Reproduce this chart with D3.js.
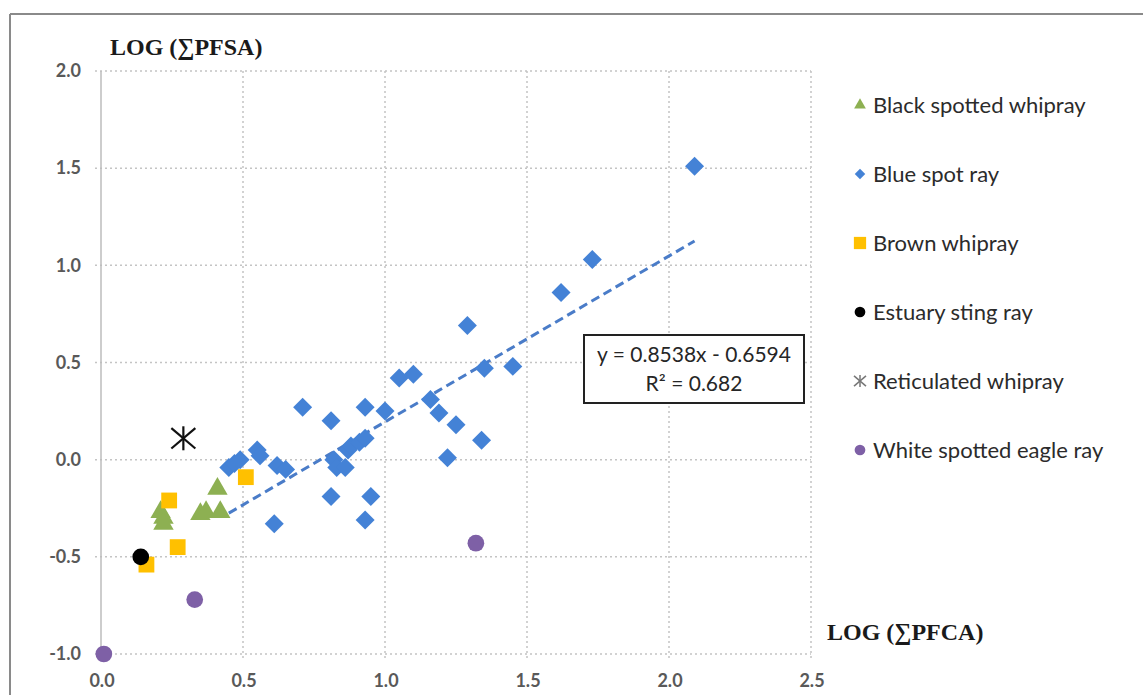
<!DOCTYPE html>
<html>
<head>
<meta charset="utf-8">
<script src="https://cdn.jsdelivr.net/npm/d3@7"></script>
<style>
  body { margin: 0; background: #fff; }
  svg { display: block; }
</style>
</head>
<body>
<div id="chart"></div>
<script>
// series values: [log PFCA, log PFSA]
const blackSpotted = [[0.21,-0.27],[0.22,-0.30],[0.22,-0.33],[0.35,-0.28],[0.37,-0.27],[0.41,-0.15],[0.42,-0.27]];
const blueSpot = [[0.45,-0.04],[0.47,-0.02],[0.49,0.00],[0.55,0.05],[0.56,0.02],[0.61,-0.33],[0.62,-0.03],
  [0.65,-0.05],[0.71,0.27],[0.81,0.20],[0.81,-0.19],[0.82,0.00],[0.83,-0.04],[0.86,-0.04],[0.87,0.05],
  [0.88,0.07],[0.91,0.09],[0.93,0.11],[0.93,0.27],[0.93,-0.31],[0.95,-0.19],[1.00,0.25],[1.05,0.42],
  [1.10,0.44],[1.16,0.31],[1.19,0.24],[1.22,0.01],[1.25,0.18],[1.29,0.69],[1.34,0.10],[1.35,0.47],
  [1.45,0.48],[1.62,0.86],[1.73,1.03],[2.09,1.51]];
const brownWhipray = [[0.16,-0.54],[0.24,-0.21],[0.27,-0.45],[0.51,-0.09]];
const estuary = [[0.14,-0.50]];
const reticulated = [[0.29,0.11]];
const whiteSpotted = [[0.01,-1.0],[0.33,-0.72],[1.32,-0.43]];

const seriesNames = ["Black spotted whipray","Blue spot ray","Brown whipray","Estuary sting ray","Reticulated whipray","White spotted eagle ray"];
const xTicks = [0, 0.5, 1.0, 1.5, 2.0, 2.5];
const yTicks = [-1.0, -0.5, 0, 0.5, 1.0, 1.5, 2.0];
const trendSlope = 0.8538, trendIntercept = -0.6594;
const eqText = ["y = 0.8538x - 0.6594", "R² = 0.682"];

const W = 1143, H = 695;
const svg = d3.select("#chart").append("svg").attr("width", W).attr("height", H);

// frame (only top and left edges are visible)
svg.append("line").attr("x1", 10).attr("y1", 14).attr("x2", W).attr("y2", 14)
  .attr("stroke", "#8a8a8a").attr("stroke-width", 2);
svg.append("line").attr("x1", 10).attr("y1", 14).attr("x2", 10).attr("y2", H)
  .attr("stroke", "#8a8a8a").attr("stroke-width", 2);

var x = d3.scaleLinear().domain([0, 2.5]).range([101, 811]);
var y = d3.scaleLinear().domain([-1, 2]).range([654, 71]);
var fmt = d => d.toFixed(1);

// grid
svg.append("g").selectAll("line").data(yTicks).enter().append("line")
  .attr("x1", 95).attr("x2", x(2.5))
  .attr("y1", d => y(d)).attr("y2", d => y(d))
  .attr("stroke", "#c4c4c4").attr("stroke-width", 1.5).attr("stroke-dasharray", "2,3");
svg.append("g").selectAll("line").data(xTicks.slice(1)).enter().append("line")
  .attr("x1", d => x(d)).attr("x2", d => x(d))
  .attr("y1", y(2)).attr("y2", y(-1) + 5)
  .attr("stroke", "#c4c4c4").attr("stroke-width", 1.5).attr("stroke-dasharray", "2,3");
// y axis line
svg.append("line").attr("x1", x(0)).attr("x2", x(0)).attr("y1", y(2)).attr("y2", y(-1))
  .attr("stroke", "#bdbdbd").attr("stroke-width", 1.5);

// tick labels
svg.append("g").selectAll("text").data(yTicks).enter().append("text")
  .attr("x", 81).attr("y", d => y(d)).attr("dy", "0.35em")
  .attr("text-anchor", "end")
  .style("font-family", "Lato, 'Open Sans', sans-serif").style("font-size", "18px")
  .style("font-weight", "bold").attr("fill", "#595959")
  .text(fmt);
svg.append("g").selectAll("text").data(xTicks).enter().append("text")
  .attr("x", d => x(d) + 1).attr("y", 687)
  .attr("text-anchor", "middle")
  .style("font-family", "Lato, 'Open Sans', sans-serif").style("font-size", "18px")
  .style("font-weight", "bold").attr("fill", "#595959")
  .text(fmt);

// axis titles
svg.append("text").attr("x", 110).attr("y", 55)
  .style("font-family", "'Liberation Serif', 'Times New Roman', serif")
  .style("font-size", "24px").style("font-weight", "bold").attr("fill", "#1a1a1a")
  .text("LOG (∑PFSA)");
svg.append("text").attr("x", 827).attr("y", 640)
  .style("font-family", "'Liberation Serif', 'Times New Roman', serif")
  .style("font-size", "24px").style("font-weight", "bold").attr("fill", "#1a1a1a")
  .text("LOG (∑PFCA)");

// trend line for blue spot ray
const bx = d3.extent(blueSpot, d => d[0]);
const trend = bx.map(v => [v, trendSlope * v + trendIntercept]);
svg.append("path").datum(trend)
  .attr("fill", "none").attr("stroke", "#4a7cc8").attr("stroke-width", 3)
  .attr("stroke-dasharray", "9,5")
  .attr("d", d3.line().x(d => x(d[0])).y(d => y(d[1])));

// markers
function drawSeries(data, sym, size, color, rot) {
  svg.append("g").selectAll("path").data(data).enter().append("path")
    .attr("d", d3.symbol().type(sym).size(size)())
    .attr("transform", d => "translate(" + x(d[0]) + "," + y(d[1]) + ") rotate(" + (rot || 0) + ")")
    .attr("fill", color);
}
drawSeries(blueSpot, d3.symbolSquare, 180, "#4482d6", 45);
drawSeries(blackSpotted, d3.symbolTriangle, 180, "#8db052");
drawSeries(brownWhipray, d3.symbolSquare, 250, "#ffc000");
drawSeries(estuary, d3.symbolCircle, 220, "#000000");
drawSeries(whiteSpotted, d3.symbolCircle, 220, "#7e60a6");

function asterisk(g, r, color, w) {
  g.append("line").attr("x1", 0).attr("y1", -r).attr("x2", 0).attr("y2", r).attr("stroke", color).attr("stroke-width", w);
  g.append("line").attr("x1", -r).attr("y1", -r * 0.85).attr("x2", r).attr("y2", r * 0.85).attr("stroke", color).attr("stroke-width", w);
  g.append("line").attr("x1", -r).attr("y1", r * 0.85).attr("x2", r).attr("y2", -r * 0.85).attr("stroke", color).attr("stroke-width", w);
}
reticulated.forEach(d => {
  var g = svg.append("g").attr("transform", "translate(" + x(d[0]) + "," + y(d[1]) + ")");
  asterisk(g, 12, "#111", 2.2);
});

// equation box
svg.append("rect").attr("x", 584).attr("y", 335).attr("width", 220).attr("height", 68)
  .attr("fill", "#fff").attr("stroke", "#222").attr("stroke-width", 2);
svg.append("g").selectAll("text").data(eqText).enter().append("text")
  .attr("x", 694).attr("y", (d, i) => 362 + i * 29)
  .attr("text-anchor", "middle")
  .style("font-family", "Lato, 'Open Sans', sans-serif").style("font-size", "21px")
  .attr("fill", "#262626")
  .text(d => d);

// legend
const legend = svg.append("g");
const legendY = d3.scalePoint().domain(seriesNames).range([105, 450]);
seriesNames.forEach((name, i) => {
  var g = legend.append("g").attr("transform", "translate(860," + legendY(name) + ")");
  if (i == 0) g.append("path").attr("d", d3.symbol().type(d3.symbolTriangle).size(60)()).attr("fill", "#8db052");
  if (i == 1) g.append("path").attr("d", d3.symbol().type(d3.symbolSquare).size(55)()).attr("transform", "rotate(45)").attr("fill", "#4482d6");
  if (i == 2) g.append("path").attr("d", d3.symbol().type(d3.symbolSquare).size(150)()).attr("fill", "#ffc000");
  if (i == 3) g.append("path").attr("d", d3.symbol().type(d3.symbolCircle).size(90)()).attr("fill", "#000");
  if (i == 4) asterisk(g, 6, "#777", 1.5);
  if (i == 5) g.append("path").attr("d", d3.symbol().type(d3.symbolCircle).size(90)()).attr("fill", "#7e60a6");
  g.append("text").attr("x", 13).attr("y", 0).attr("dy", "0.35em")
    .style("font-family", "Lato, 'Open Sans', sans-serif").style("font-size", "22px")
    .attr("fill", "#2b2b2b")
    .text(name);
});
</script>
</body>
</html>
